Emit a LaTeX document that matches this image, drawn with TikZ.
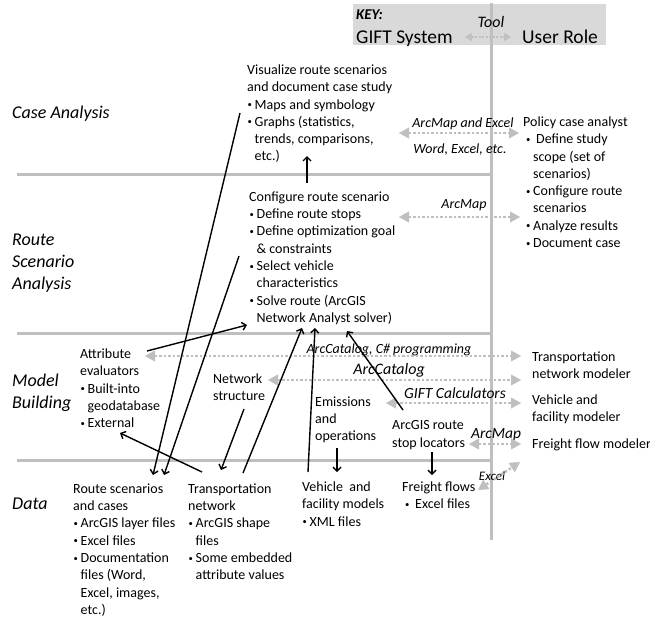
\documentclass[tikz,border=0pt]{standalone}
\usepackage{fontspec}
\setmainfont{Carlito}
\usepackage{graphicx}
\usepackage{tikz}
\usetikzlibrary{arrows.meta,calc}

\definecolor{linegray}{RGB}{191,191,191}
\definecolor{keygray}{RGB}{217,217,217}

\newcommand{\bodyfont}{\fontsize{14}{17.3}\selectfont}
\newcommand{\itm}{\makebox[7.5pt][l]{\hspace*{0.3pt}\raisebox{1.5pt}{\scalebox{0.62}{\textbullet}}}}
\newcommand{\ind}{\hspace*{7.5pt}}
\newcommand{\pitm}{\hspace*{2.5pt}\itm}
\newcommand{\pind}{\hspace*{10pt}}

\begin{document}
\begin{tikzpicture}[x=1pt,y=-1pt,
    txt/.style={anchor=north west,inner sep=0pt,align=left,font=\bodyfont,
        yshift=6.5pt,execute at begin node={\rule{0pt}{11pt}}},
    sec/.style={anchor=north west,inner sep=0pt,align=left,
        font=\fontsize{18}{22}\selectfont\itshape,
        yshift=8.2pt,execute at begin node={\rule{0pt}{14pt}}},
    lbl/.style={anchor=base,inner sep=0pt,font=\fontsize{14}{17}\selectfont\itshape},
    keytxt/.style={anchor=base west,inner sep=0pt,font=\fontsize{19.5}{23}\selectfont},
    band/.style={linegray,line width=3pt},
    tool/.style={linegray,line width=2.5pt,dash pattern=on 2.5pt off 2pt,
        {Triangle[length=10pt,width=11pt,line width=0.4pt]}-{Triangle[length=10pt,width=11pt,line width=0.4pt]}},
    smalltool/.style={linegray,line width=2pt,dash pattern=on 2pt off 1.5pt,
        {Triangle[length=7pt,width=8pt,line width=0.4pt]}-{Triangle[length=7pt,width=8pt,line width=0.4pt]}},
    flow/.style={line width=1.4pt,-{Straight Barb[length=4pt,width=8pt]}}]
    \useasboundingbox (0,0) rectangle (650,619);

    % key
    \fill[keygray] (353,4) rectangle (606,45);

    % bands
    \draw[band] (17,174) -- (491,174);
    \draw[band] (17,333) -- (491,333);
    \draw[band] (17,460) -- (491,460);
    \draw[band] (491,3) -- (491,540);

    \node[anchor=base west,inner sep=0pt,font=\fontsize{15}{18}\selectfont\bfseries\itshape] (keytitle) at (356,19.8) {KEY:};
    \node[lbl,font=\fontsize{16}{19}\selectfont\itshape] (keytool) at (491,27) {Tool};
    \node[keytxt] (keysys) at (356,43.2) {GIFT System};
    \node[keytxt] (keyrole) at (522,43.2) {User Role};
    \draw[smalltool] ($(keysys.base east)+(12,-6.2)$) -- ($(keyrole.base west)+(-11,-6.2)$);

    % levels
    \node[sec] (secca) at (12,112) {Case Analysis};
    \node[sec] (secrsa) at (12,242) {Route\\Scenario\\Analysis};
    \node[sec] (secmb) at (12,382) {Model\\Building};
    \node[sec] (secdata) at (12,503) {Data};

    % GIFT system
    \node[txt] (vis) at (247,71) {Visualize route scenarios\\and document case study\\\itm Maps and symbology\\\itm Graphs (statistics,\\\ind trends, comparisons,\\\ind etc.)};
    \node[txt] (conf) at (249,198) {Configure route scenario\\\itm Define route stops\\\itm Define optimization goal\\\ind \& constraints\\\itm Select vehicle\\\ind characteristics\\\itm Solve route (ArcGIS\\\ind Network Analyst solver)};
    \node[txt] (attr) at (80,355) {Attribute\\evaluators\\\itm Built-into\\\ind geodatabase\\\itm External};
    \node[txt] (netstr) at (213,380) {Network\\structure};
    \node[txt] (emis) at (315,403) {Emissions\\and\\operations};
    \node[txt] (loc) at (392,427) {ArcGIS route\\stop locators};
    \node[txt] (rsc) at (73,490) {Route scenarios\\and cases\\\itm ArcGIS layer files\\\itm Excel files\\\itm Documentation\\\ind files (Word,\\\ind Excel, images,\\\ind etc.)};
    \node[txt] (tnet) at (188,490) {Transportation\\network\\\itm ArcGIS shape\\\ind files\\\itm Some embedded\\\ind attribute values};
    \node[txt] (vfmod) at (302,488) {Vehicle\ \ and\\facility models\\\itm XML files};
    \node[txt] (ffl) at (402,488) {Freight flows\\\pitm\hspace*{3pt}Excel files};

    % user roles
    \node[txt] (pol) at (523,123) {Policy case analyst\\\pitm\hspace*{3pt}Define study\\\pind scope (set of\\\pind scenarios)\\\pitm Configure route\\\pind scenarios\\\pitm Analyze results\\\pitm Document case};
    \node[txt] (tnm) at (532,358) {Transportation\\network modeler};
    \node[txt] (vfm) at (532,401) {Vehicle and\\facility modeler};
    \node[txt] (ffm) at (532,444) {Freight flow modeler};

    % tools
    \node[lbl] (tarcexcel) at (463,127.5) {ArcMap and Excel};
    \node[lbl] (tword) at (460,153.5) {Word, Excel, etc.};
    \node[lbl] (tarcmap) at (464,208.5) {ArcMap};
    \node[lbl] (tcsharp) at (389,353.5) {ArcCatalog, C\# programming};
    \node[lbl,font=\fontsize{16}{19}\selectfont\itshape] (tcatalog) at (389,374.1) {ArcCatalog};
    \node[lbl,font=\fontsize{15.5}{18}\selectfont\itshape] (tcalc) at (455,398) {GIFT Calculators};
    \node[lbl,font=\fontsize{15.5}{18}\selectfont\itshape] (tlocmap) at (496,438) {ArcMap};
    \node[lbl,font=\fontsize{13}{15}\selectfont\itshape] (texcel) at (492,480) {Excel};

    \draw[tool] ($(vis.north west)+(152,68.5)$) -- ($(pol.north west)+(-4,16.5)$);
    \draw[tool] ($(conf.north west)+(150,25.5)$) -- ($(pol.north west)+(-3,100.5)$);
    \draw[tool] ($(attr.north west)+(65,7.5)$) -- ($(tnm.north west)+(-11,4.5)$);
    \draw[tool] ($(netstr.north west)+(55,6.5)$) -- ($(tnm.north west)+(-11,28.5)$);
    \draw[tool] ($(emis.north west)+(71,6.5)$) -- ($(vfm.north west)+(-11,8.5)$);
    \draw[tool] ($(loc.north west)+(77,23.5)$) -- ($(ffm.north west)+(-11,6.5)$);
    \draw[tool] ($(ffl.north west)+(76,8.5)$) -- ($(ffm.north west)+(-12,24.5)$);

    % data flows
    \draw[flow] ($(vis.north west)+(-7,48.5)$) -- ($(rsc.north west)+(80,-8.5)$);
    \draw[flow] ($(conf.north west)+(-10,64.5)$) -- ($(rsc.north west)+(91,-8.5)$);
    \draw[flow] ($(conf.north west)+(58,-8.5)$) -- ($(vis.north west)+(60,91.5)$);
    \draw[flow] ($(attr.north west)+(67,2.5)$) -- ($(conf.north west)+(-2,133.5)$);
    \draw[flow] ($(netstr.north west)+(31,35.5)$) -- ($(tnet.north west)+(33,-13.5)$);
    \draw[flow] ($(tnet.north west)+(14,-11.5)$) -- ($(attr.north west)+(40,84.5)$);
    \draw[flow] ($(tnet.north west)+(55,-10.5)$) -- ($(conf.north west)+(53,136.5)$);
    \draw[flow] ($(vfmod.north west)+(6,-9.5)$) -- ($(conf.north west)+(66,136.5)$);
    \draw[flow] ($(loc.north west)+(11,-10.5)$) -- ($(conf.north west)+(98,139.5)$);
    \draw[flow] ($(emis.north west)+(22,51.5)$) -- ($(vfmod.north west)+(35,-9.5)$);
    \draw[flow] ($(loc.north west)+(40,31.5)$) -- ($(ffl.north west)+(30,-6.5)$);
\end{tikzpicture}
\end{document}
